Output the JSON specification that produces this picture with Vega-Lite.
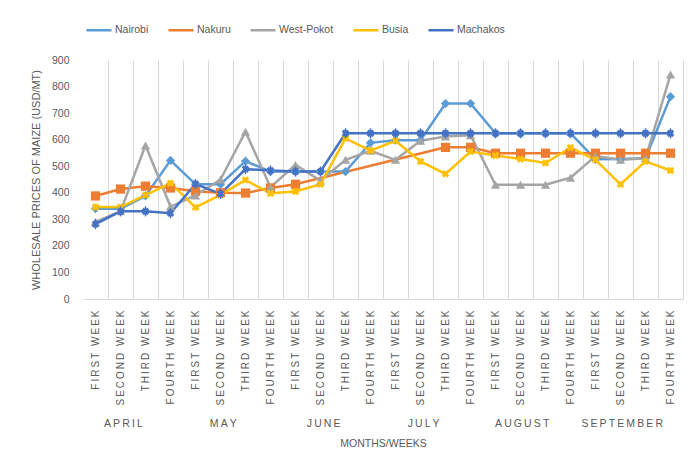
{
  "$schema": "https://vega.github.io/schema/vega-lite/v6.json",
  "width": 600,
  "height": 239,
  "autosize": {"type": "none"},
  "padding": {"top": 60, "left": 83, "right": 8, "bottom": 167},
  "background": "white",
  "config": {"font": "Liberation Sans", "view": {"stroke": null}},
  "data": {
    "values": [
      {"city": "Nairobi", "period": "APRIL FIRST WEEK", "price": 340},
      {"city": "Nairobi", "period": "APRIL SECOND WEEK", "price": 340},
      {"city": "Nairobi", "period": "APRIL THIRD WEEK", "price": 388},
      {"city": "Nairobi", "period": "APRIL FOURTH WEEK", "price": 522},
      {"city": "Nairobi", "period": "MAY FIRST WEEK", "price": 432},
      {"city": "Nairobi", "period": "MAY SECOND WEEK", "price": 432},
      {"city": "Nairobi", "period": "MAY THIRD WEEK", "price": 519},
      {"city": "Nairobi", "period": "MAY FOURTH WEEK", "price": 480},
      {"city": "Nairobi", "period": "JUNE FIRST WEEK", "price": 480},
      {"city": "Nairobi", "period": "JUNE SECOND WEEK", "price": 480},
      {"city": "Nairobi", "period": "JUNE THIRD WEEK", "price": 480},
      {"city": "Nairobi", "period": "JUNE FOURTH WEEK", "price": 588},
      {"city": "Nairobi", "period": "JULY FIRST WEEK", "price": 598},
      {"city": "Nairobi", "period": "JULY SECOND WEEK", "price": 598},
      {"city": "Nairobi", "period": "JULY THIRD WEEK", "price": 736},
      {"city": "Nairobi", "period": "JULY FOURTH WEEK", "price": 736},
      {"city": "Nairobi", "period": "AUGUST FIRST WEEK", "price": 624},
      {"city": "Nairobi", "period": "AUGUST SECOND WEEK", "price": 624},
      {"city": "Nairobi", "period": "AUGUST THIRD WEEK", "price": 624},
      {"city": "Nairobi", "period": "AUGUST FOURTH WEEK", "price": 624},
      {"city": "Nairobi", "period": "SEPTEMBER FIRST WEEK", "price": 526},
      {"city": "Nairobi", "period": "SEPTEMBER SECOND WEEK", "price": 527},
      {"city": "Nairobi", "period": "SEPTEMBER THIRD WEEK", "price": 530},
      {"city": "Nairobi", "period": "SEPTEMBER FOURTH WEEK", "price": 762},
      {"city": "Nakuru", "period": "APRIL FIRST WEEK", "price": 388},
      {"city": "Nakuru", "period": "APRIL SECOND WEEK", "price": 414},
      {"city": "Nakuru", "period": "APRIL THIRD WEEK", "price": 425},
      {"city": "Nakuru", "period": "APRIL FOURTH WEEK", "price": 418},
      {"city": "Nakuru", "period": "MAY FIRST WEEK", "price": 406},
      {"city": "Nakuru", "period": "MAY SECOND WEEK", "price": 400},
      {"city": "Nakuru", "period": "MAY THIRD WEEK", "price": 399},
      {"city": "Nakuru", "period": "MAY FOURTH WEEK", "price": 418},
      {"city": "Nakuru", "period": "JUNE FIRST WEEK", "price": 432},
      {"city": "Nakuru", "period": "JULY THIRD WEEK", "price": 571},
      {"city": "Nakuru", "period": "JULY FOURTH WEEK", "price": 571},
      {"city": "Nakuru", "period": "AUGUST FIRST WEEK", "price": 549},
      {"city": "Nakuru", "period": "AUGUST SECOND WEEK", "price": 549},
      {"city": "Nakuru", "period": "AUGUST THIRD WEEK", "price": 549},
      {"city": "Nakuru", "period": "AUGUST FOURTH WEEK", "price": 549},
      {"city": "Nakuru", "period": "SEPTEMBER FIRST WEEK", "price": 549},
      {"city": "Nakuru", "period": "SEPTEMBER SECOND WEEK", "price": 549},
      {"city": "Nakuru", "period": "SEPTEMBER THIRD WEEK", "price": 549},
      {"city": "Nakuru", "period": "SEPTEMBER FOURTH WEEK", "price": 549},
      {"city": "West-Pokot", "period": "APRIL FIRST WEEK", "price": 290},
      {"city": "West-Pokot", "period": "APRIL SECOND WEEK", "price": 330},
      {"city": "West-Pokot", "period": "APRIL THIRD WEEK", "price": 578},
      {"city": "West-Pokot", "period": "APRIL FOURTH WEEK", "price": 348},
      {"city": "West-Pokot", "period": "MAY FIRST WEEK", "price": 390},
      {"city": "West-Pokot", "period": "MAY SECOND WEEK", "price": 450},
      {"city": "West-Pokot", "period": "MAY THIRD WEEK", "price": 630},
      {"city": "West-Pokot", "period": "MAY FOURTH WEEK", "price": 421},
      {"city": "West-Pokot", "period": "JUNE FIRST WEEK", "price": 505},
      {"city": "West-Pokot", "period": "JUNE SECOND WEEK", "price": 445},
      {"city": "West-Pokot", "period": "JUNE THIRD WEEK", "price": 524},
      {"city": "West-Pokot", "period": "JUNE FOURTH WEEK", "price": 558},
      {"city": "West-Pokot", "period": "JULY FIRST WEEK", "price": 524},
      {"city": "West-Pokot", "period": "JULY SECOND WEEK", "price": 596},
      {"city": "West-Pokot", "period": "JULY THIRD WEEK", "price": 612},
      {"city": "West-Pokot", "period": "JULY FOURTH WEEK", "price": 617},
      {"city": "West-Pokot", "period": "AUGUST FIRST WEEK", "price": 430},
      {"city": "West-Pokot", "period": "AUGUST SECOND WEEK", "price": 430},
      {"city": "West-Pokot", "period": "AUGUST THIRD WEEK", "price": 430},
      {"city": "West-Pokot", "period": "AUGUST FOURTH WEEK", "price": 457},
      {"city": "West-Pokot", "period": "SEPTEMBER FIRST WEEK", "price": 538},
      {"city": "West-Pokot", "period": "SEPTEMBER SECOND WEEK", "price": 524},
      {"city": "West-Pokot", "period": "SEPTEMBER THIRD WEEK", "price": 530},
      {"city": "West-Pokot", "period": "SEPTEMBER FOURTH WEEK", "price": 845},
      {"city": "Busia", "period": "APRIL FIRST WEEK", "price": 346},
      {"city": "Busia", "period": "APRIL SECOND WEEK", "price": 346},
      {"city": "Busia", "period": "APRIL THIRD WEEK", "price": 391},
      {"city": "Busia", "period": "APRIL FOURTH WEEK", "price": 436},
      {"city": "Busia", "period": "MAY FIRST WEEK", "price": 345},
      {"city": "Busia", "period": "MAY SECOND WEEK", "price": 392},
      {"city": "Busia", "period": "MAY THIRD WEEK", "price": 448},
      {"city": "Busia", "period": "MAY FOURTH WEEK", "price": 398},
      {"city": "Busia", "period": "JUNE FIRST WEEK", "price": 405},
      {"city": "Busia", "period": "JUNE SECOND WEEK", "price": 432},
      {"city": "Busia", "period": "JUNE THIRD WEEK", "price": 605},
      {"city": "Busia", "period": "JUNE FOURTH WEEK", "price": 559},
      {"city": "Busia", "period": "JULY FIRST WEEK", "price": 596},
      {"city": "Busia", "period": "JULY SECOND WEEK", "price": 518},
      {"city": "Busia", "period": "JULY THIRD WEEK", "price": 471},
      {"city": "Busia", "period": "JULY FOURTH WEEK", "price": 555},
      {"city": "Busia", "period": "AUGUST FIRST WEEK", "price": 540},
      {"city": "Busia", "period": "AUGUST SECOND WEEK", "price": 527},
      {"city": "Busia", "period": "AUGUST THIRD WEEK", "price": 512},
      {"city": "Busia", "period": "AUGUST FOURTH WEEK", "price": 570},
      {"city": "Busia", "period": "SEPTEMBER FIRST WEEK", "price": 524},
      {"city": "Busia", "period": "SEPTEMBER SECOND WEEK", "price": 432},
      {"city": "Busia", "period": "SEPTEMBER THIRD WEEK", "price": 518},
      {"city": "Busia", "period": "SEPTEMBER FOURTH WEEK", "price": 484},
      {"city": "Machakos", "period": "APRIL FIRST WEEK", "price": 282},
      {"city": "Machakos", "period": "APRIL SECOND WEEK", "price": 330},
      {"city": "Machakos", "period": "APRIL THIRD WEEK", "price": 330},
      {"city": "Machakos", "period": "APRIL FOURTH WEEK", "price": 323},
      {"city": "Machakos", "period": "MAY FIRST WEEK", "price": 433},
      {"city": "Machakos", "period": "MAY SECOND WEEK", "price": 396},
      {"city": "Machakos", "period": "MAY THIRD WEEK", "price": 489},
      {"city": "Machakos", "period": "MAY FOURTH WEEK", "price": 484},
      {"city": "Machakos", "period": "JUNE FIRST WEEK", "price": 480},
      {"city": "Machakos", "period": "JUNE SECOND WEEK", "price": 480},
      {"city": "Machakos", "period": "JUNE THIRD WEEK", "price": 624},
      {"city": "Machakos", "period": "JUNE FOURTH WEEK", "price": 624},
      {"city": "Machakos", "period": "JULY FIRST WEEK", "price": 624},
      {"city": "Machakos", "period": "JULY SECOND WEEK", "price": 624},
      {"city": "Machakos", "period": "JULY THIRD WEEK", "price": 624},
      {"city": "Machakos", "period": "JULY FOURTH WEEK", "price": 624},
      {"city": "Machakos", "period": "AUGUST FIRST WEEK", "price": 624},
      {"city": "Machakos", "period": "AUGUST SECOND WEEK", "price": 624},
      {"city": "Machakos", "period": "AUGUST THIRD WEEK", "price": 624},
      {"city": "Machakos", "period": "AUGUST FOURTH WEEK", "price": 624},
      {"city": "Machakos", "period": "SEPTEMBER FIRST WEEK", "price": 624},
      {"city": "Machakos", "period": "SEPTEMBER SECOND WEEK", "price": 624},
      {"city": "Machakos", "period": "SEPTEMBER THIRD WEEK", "price": 624},
      {"city": "Machakos", "period": "SEPTEMBER FOURTH WEEK", "price": 624}
    ]
  },
  "encoding": {
    "x": {
      "field": "period", "type": "ordinal",
      "sort": ["APRIL FIRST WEEK", "APRIL SECOND WEEK", "APRIL THIRD WEEK", "APRIL FOURTH WEEK", "MAY FIRST WEEK", "MAY SECOND WEEK", "MAY THIRD WEEK", "MAY FOURTH WEEK", "JUNE FIRST WEEK", "JUNE SECOND WEEK", "JUNE THIRD WEEK", "JUNE FOURTH WEEK", "JULY FIRST WEEK", "JULY SECOND WEEK", "JULY THIRD WEEK", "JULY FOURTH WEEK", "AUGUST FIRST WEEK", "AUGUST SECOND WEEK", "AUGUST THIRD WEEK", "AUGUST FOURTH WEEK", "SEPTEMBER FIRST WEEK", "SEPTEMBER SECOND WEEK", "SEPTEMBER THIRD WEEK", "SEPTEMBER FOURTH WEEK"],
      "scale": {"type": "point", "padding": 0.5},
      "axis": {
        "orient": "bottom", "ticks": false, "domain": true,
        "domainColor": "#d9d9d9", "domainWidth": 1,
        "grid": true, "gridColor": "#d9d9d9", "gridWidth": 1,
        "tickOffset": 12.5, "labelOffset": -12.5,
        "labelAngle": -90, "labelPadding": 11, "labelFontSize": 10, "labelColor": "#595959",
        "labelOverlap": false,
        "labelExpr": "join(split(slice(datum.value, indexof(datum.value, ' ') + 1), ''), '\u2009')",
        "title": ["\u00a0\u00a0\u00a0\u00a0\u00a0\u00a0\u00a0A\u2009P\u2009R\u2009I\u2009L\u00a0\u00a0\u00a0\u00a0\u00a0\u00a0\u00a0\u00a0\u00a0\u00a0\u00a0\u00a0\u00a0\u00a0\u00a0\u00a0\u00a0\u00a0\u00a0\u00a0\u00a0\u00a0\u00a0M\u2009A\u2009Y\u00a0\u00a0\u00a0\u00a0\u00a0\u00a0\u00a0\u00a0\u00a0\u00a0\u00a0\u00a0\u00a0\u00a0\u00a0\u00a0\u00a0\u00a0\u00a0\u00a0\u00a0\u00a0\u00a0\u00a0J\u2009U\u2009N\u2009E\u00a0\u00a0\u00a0\u00a0\u00a0\u00a0\u00a0\u00a0\u00a0\u00a0\u00a0\u00a0\u00a0\u00a0\u00a0\u00a0\u00a0\u00a0\u00a0\u00a0\u00a0\u00a0\u00a0J\u2009U\u2009L\u2009Y\u00a0\u00a0\u00a0\u00a0\u00a0\u00a0\u00a0\u00a0\u00a0\u00a0\u00a0\u00a0\u00a0\u00a0\u00a0\u00a0\u00a0\u00a0\u00a0A\u2009U\u2009G\u2009U\u2009S\u2009T\u00a0\u00a0\u00a0\u00a0\u00a0\u00a0\u00a0\u00a0\u00a0\u00a0\u00a0S\u2009E\u2009P\u2009T\u2009E\u2009M\u2009B\u2009E\u2009R", "MONTHS/WEEKS"],
        "titleFontSize": 10.5, "titleFontWeight": "normal", "titleColor": "#595959",
        "titlePadding": 13, "titleLineHeight": 20
      }
    },
    "y": {
      "field": "price", "type": "quantitative",
      "scale": {"domain": [0, 900], "nice": false},
      "axis": {
        "values": [0, 100, 200, 300, 400, 500, 600, 700, 800, 900],
        "title": "WHOLESALE PRICES OF MAIZE (USD/MT)",
        "titleFontSize": 11, "titleFontWeight": "normal", "titleColor": "#595959", "titlePadding": 10,
        "domain": false, "ticks": false, "grid": false,
        "labelPadding": 14, "labelFontSize": 10.5, "labelColor": "#595959"
      }
    },
    "color": {
      "field": "city", "type": "nominal",
      "scale": {
        "domain": ["Nairobi", "Nakuru", "West-Pokot", "Busia", "Machakos"],
        "range": ["#5B9BD5", "#ED7D31", "#A5A5A5", "#FFC000", "#4472C4"]
      },
      "legend": {
        "orient": "none", "legendX": 2, "legendY": -44, "direction": "horizontal",
        "title": null, "symbolSize": 625, "symbolStrokeWidth": 2.5, "symbolType": "stroke",
        "labelFontSize": 10.5, "labelColor": "#595959", "labelOffset": 2, "columnPadding": 14
      }
    }
  },
  "layer": [
    {"mark": {"type": "line", "strokeWidth": 2.5}, "encoding": {}},
    {
      "transform": [{"filter": {"field": "city", "oneOf": ["Nairobi", "Nakuru", "West-Pokot"]}}],
      "mark": {"type": "point", "filled": true, "size": 85, "opacity": 1},
      "encoding": {
        "shape": {
          "field": "city", "type": "nominal", "legend": null,
          "scale": {"domain": ["Nairobi", "Nakuru", "West-Pokot"], "range": ["diamond", "square", "triangle-up"]}
        }
      }
    },
    {
      "transform": [{"filter": {"field": "city", "oneOf": ["Busia", "Machakos"]}}],
      "mark": {"type": "point", "filled": true, "shape": "cross", "angle": 45, "size": 60, "opacity": 1},
      "encoding": {}
    },
    {
      "transform": [{"filter": {"field": "city", "equal": "Machakos"}}],
      "mark": {"type": "tick", "orient": "vertical", "size": 10, "thickness": 1.5, "opacity": 1},
      "encoding": {}
    }
  ]
}
